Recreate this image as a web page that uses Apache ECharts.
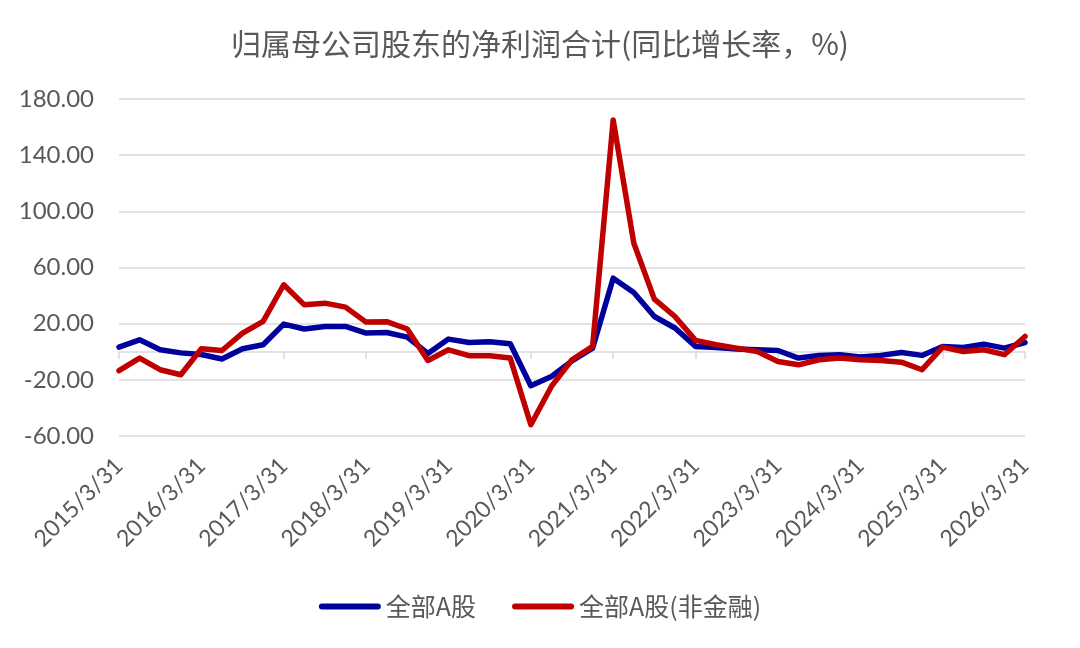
<!DOCTYPE html>
<html>
<head>
<meta charset="utf-8">
<script src="https://cdn.jsdelivr.net/npm/echarts@6/dist/echarts.min.js"></script>
<style>html,body{margin:0;padding:0;background:#fff;}#c{width:1080px;height:648px;}</style>
</head>
<body>
<div id="c"></div>
<script>
var categories = [
  '2015/3/31','2015/6/30','2015/9/30','2015/12/31',
  '2016/3/31','2016/6/30','2016/9/30','2016/12/31',
  '2017/3/31','2017/6/30','2017/9/30','2017/12/31',
  '2018/3/31','2018/6/30','2018/9/30','2018/12/31',
  '2019/3/31','2019/6/30','2019/9/30','2019/12/31',
  '2020/3/31','2020/6/30','2020/9/30','2020/12/31',
  '2021/3/31','2021/6/30','2021/9/30','2021/12/31',
  '2022/3/31','2022/6/30','2022/9/30','2022/12/31',
  '2023/3/31','2023/6/30','2023/9/30','2023/12/31',
  '2024/3/31','2024/6/30','2024/9/30','2024/12/31',
  '2025/3/31','2025/6/30','2025/9/30','2025/12/31',
  '2026/3/31'
];
var allA = [3.3, 8.5, 1.4, -0.8, -2.0, -5.2, 2.1, 5.0, 19.7, 16.2, 18.0, 18.0, 13.3, 13.7, 10.4, -1.2, 9.0, 6.6, 7.1, 5.7, -24.2, -17.6, -6.5, 2.5, 52.4, 42.2, 25.1, 16.9, 3.8, 3.1, 1.9, 1.4, 0.9, -4.5, -2.6, -2.1, -3.8, -2.6, -0.5, -2.6, 3.8, 3.1, 5.4, 2.6, 6.6];
var allANonFin = [-13.5, -4.5, -12.8, -16.4, 2.1, 0.9, 13.3, 21.6, 47.7, 33.4, 34.6, 31.8, 21.1, 21.4, 16.2, -6.2, 1.4, -2.8, -2.8, -4.5, -52.0, -24.7, -5.7, 3.8, 165.0, 77.4, 37.5, 25.1, 8.1, 5.0, 2.6, 0.2, -6.9, -9.3, -5.7, -4.5, -5.7, -6.2, -7.4, -12.8, 3.3, 0.2, 1.4, -2.1, 10.9];
var seriesNames = ['全部A股', '全部A股(非金融)'];
var titleText = '归属母公司股东的净利润合计(同比增长率，%)';

var FONT = 'Lato, "Noto Sans CJK SC", sans-serif';
var TXT = '#595959';
var GRID = '#d9d9d9';
var pill = 'path://M3,0 L59,0 A3,3 0 0 1 59,6 L3,6 A3,3 0 0 1 3,0 Z';

var chart = echarts.init(document.getElementById('c'), null, {renderer: 'canvas'});
chart.setOption({
  animation: false,
  backgroundColor: '#fff',
  title: {
    text: titleText,
    left: 'center',
    top: 24,
    textStyle: {fontFamily: '"Noto Sans CJK SC", sans-serif', fontSize: 30, fontWeight: 'normal', color: TXT}
  },
  legend: {
    data: seriesNames,
    left: 'center',
    top: 589,
    itemGap: 36,
    itemWidth: 62,
    itemHeight: 6,
    textStyle: {fontFamily: '"Noto Sans CJK SC", sans-serif', fontSize: 25, color: TXT}
  },
  grid: {left: 119, right: 55, top: 99, bottom: 212, containLabel: false},
  xAxis: [
    {
      type: 'category',
      data: categories,
      boundaryGap: false,
      position: 'bottom',
      axisLine: {show: false, onZero: false},
      axisTick: {show: false},
      axisLabel: {
        interval: 3,
        rotate: 45,
        margin: 26,
        fontFamily: FONT,
        fontSize: 23,
        color: TXT
      },
      splitLine: {show: false}
    },
    {
      type: 'category',
      data: categories,
      boundaryGap: false,
      position: 'bottom',
      axisLine: {show: true, onZero: true, lineStyle: {color: GRID, width: 1.5}},
      axisTick: {show: true, interval: 3, length: 7, lineStyle: {color: GRID, width: 1.5}},
      axisLabel: {show: false},
      splitLine: {show: false}
    }
  ],
  yAxis: {
    type: 'value',
    min: -60,
    max: 180,
    interval: 40,
    axisLine: {show: false},
    axisTick: {show: false},
    axisLabel: {
      margin: 25,
      fontFamily: FONT,
      fontSize: 24,
      color: TXT,
      formatter: function (v) { return v.toFixed(2); }
    },
    splitLine: {lineStyle: {color: GRID, width: 1.5}}
  },
  series: [
    {
      name: seriesNames[0],
      type: 'line',
      data: allA,
      xAxisIndex: 0,
      symbol: 'none',
      showSymbol: false,
      color: '#00009C',
      lineStyle: {color: '#00009C', width: 5.5, cap: 'round', join: 'round'},
      itemStyle: {color: '#00009C'}
    },
    {
      name: seriesNames[1],
      type: 'line',
      data: allANonFin,
      xAxisIndex: 0,
      symbol: 'none',
      showSymbol: false,
      color: '#C00000',
      lineStyle: {color: '#C00000', width: 5.5, cap: 'round', join: 'round'},
      itemStyle: {color: '#C00000'}
    }
  ]
});
chart.setOption({legend: {icon: pill}});
</script>
</body>
</html>
